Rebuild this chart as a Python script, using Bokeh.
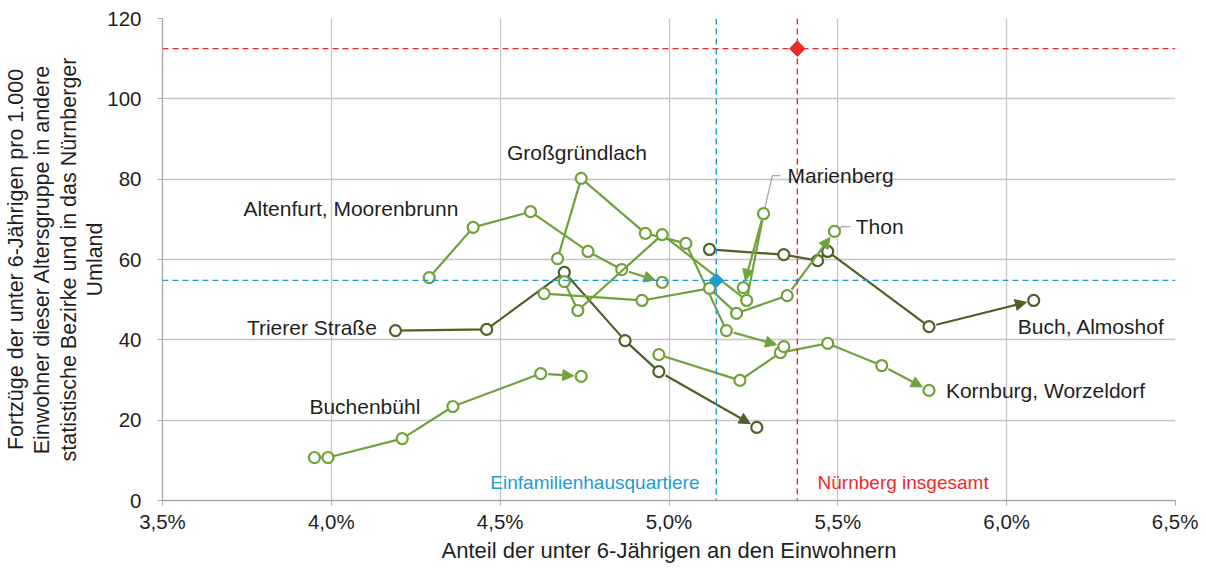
import math
from bokeh.plotting import figure
from bokeh.models import Range1d, FixedTicker, Arrow, NormalHead, Label, Span
from bokeh.embed import file_html
from bokeh.resources import INLINE

# ---------------- data ----------------
x_ticks = [3.5, 4.0, 4.5, 5.0, 5.5, 6.0, 6.5]
x_tick_labels = ["3,5%", "4,0%", "4,5%", "5,0%", "5,5%", "6,0%", "6,5%"]
y_ticks = [0, 20, 40, 60, 80, 100, 120]

trierer_x = [4.19, 4.46, 4.69, 4.87, 4.97, 5.26]
trierer_y = [42.3, 42.6, 56.8, 39.8, 32.1, 18.2]

buch_x = [5.12, 5.34, 5.44, 5.47, 5.77, 6.08]
buch_y = [62.5, 61.2, 59.7, 62.0, 43.3, 49.8]

buchenbuehl_x = [3.95, 3.99, 4.21, 4.36, 4.62, 4.74]
buchenbuehl_y = [10.7, 10.7, 15.4, 23.4, 31.6, 30.9]

kornburg_x = [4.97, 5.21, 5.33, 5.47, 5.63, 5.77]
kornburg_y = [36.3, 29.9, 36.8, 39.1, 33.6, 27.4]

altenfurt_x = [4.29, 4.42, 4.59, 4.76, 4.86, 4.98]
altenfurt_y = [55.5, 68.0, 71.9, 62.0, 57.5, 54.3]

grossgruendlach_x = [4.67, 4.74, 4.93, 5.05, 5.17, 5.34]
grossgruendlach_y = [60.2, 80.2, 66.5, 64.0, 42.3, 38.3]

marienberg_x = [4.69, 4.73, 4.98, 5.23, 5.28, 5.22]
marienberg_y = [54.5, 47.3, 66.2, 49.8, 71.4, 53.0]

thon_x = [4.63, 4.92, 5.12, 5.20, 5.35, 5.49]
thon_y = [51.5, 49.8, 52.8, 46.6, 51.0, 67.0]

efh_x, efh_y = 5.14, 54.8          # Einfamilienhausquartiere
nbg_x, nbg_y = 5.38, 112.5         # Nürnberg insgesamt

# ---------------- style ----------------
DARK = "#4e6126"
LIGHT = "#70a13b"
BLUE = "#1f9ad6"
RED = "#f02828"
GRID = "#c6c6c6"
TXT = "#1f1f1f"
FONT = "Liberation Sans"

FW, FH = 1013, 482
XMIN, XMAX, YMIN, YMAX = 3.5, 6.5, 0, 120
sx = FW / (XMAX - XMIN)
sy = FH / (YMAX - YMIN)

p = figure(frame_width=FW, frame_height=FH, output_backend="svg", toolbar_location=None,
           x_range=Range1d(XMIN, XMAX), y_range=Range1d(YMIN, YMAX),
           min_border_left=162, min_border_right=23, min_border_top=18, min_border_bottom=62)
p.outline_line_color = None
p.background_fill_color = "white"

p.xaxis.ticker = FixedTicker(ticks=x_ticks)
p.xaxis.major_label_overrides = {t: l for t, l in zip(x_ticks, x_tick_labels)}
p.yaxis.ticker = FixedTicker(ticks=y_ticks)
p.xgrid.ticker = FixedTicker(ticks=x_ticks)
p.ygrid.ticker = FixedTicker(ticks=y_ticks)
for g in (p.xgrid, p.ygrid):
    g.grid_line_color = GRID
    g.grid_line_width = 1.3

for ax in (p.xaxis, p.yaxis):
    ax.axis_line_color = "#a6a6a6"
    ax.axis_line_width = 1.3
    ax.major_tick_line_color = "#a6a6a6"
    ax.major_tick_out = 5
    ax.major_tick_in = 0
    ax.minor_tick_line_color = None
    ax.major_label_text_font = FONT
    ax.major_label_text_font_size = "20.5px"
    ax.major_label_text_color = TXT
    ax.axis_label_text_font = FONT
    ax.axis_label_text_font_size = "21.5px"
    ax.axis_label_text_font_style = "normal"
    ax.axis_label_text_color = TXT

p.xaxis.major_label_standoff = 4
p.yaxis.major_label_standoff = 16
p.xaxis.axis_label = "Anteil der unter 6-Jährigen an den Einwohnern"
p.xaxis.axis_label_text_font_size = "22px"
p.xaxis.axis_label_standoff = 2
p.yaxis.axis_label = ("Fortzüge der unter 6-Jährigen pro 1.000\n"
                      "Einwohner dieser Altersgruppe in andere\n"
                      "statistische Bezirke und in das Nürnberger\n"
                      "Umland")
p.yaxis.axis_label_standoff = -3
p.yaxis.axis_label_text_line_height = 1.1

# leader lines (drawn first, under markers)
LEAD = "#a6a6a6"
p.line([marienberg_x[4], 5.306, 5.330], [marienberg_y[4], 80.9, 80.9], line_color=LEAD, line_width=1.3)
p.line([thon_x[5], 5.514, 5.537], [thon_y[5], 68.2, 68.2], line_color=LEAD, line_width=1.3)

series = [
    (trierer_x, trierer_y, DARK),
    (buch_x, buch_y, DARK),
    (buchenbuehl_x, buchenbuehl_y, LIGHT),
    (kornburg_x, kornburg_y, LIGHT),
    (altenfurt_x, altenfurt_y, LIGHT),
    (grossgruendlach_x, grossgruendlach_y, LIGHT),
    (marienberg_x, marienberg_y, LIGHT),
    (thon_x, thon_y, LIGHT),
]

R = 7.5
for xs, ys, col in series:
    p.line(xs[:-1], ys[:-1], line_color=col, line_width=2.2)
    # last segment as arrow, tip touching the last marker
    x0, y0, x1, y1 = xs[-2], ys[-2], xs[-1], ys[-1]
    dx, dy = (x1 - x0) * sx, (y1 - y0) * sy
    L = math.hypot(dx, dy)
    ux, uy = dx / L, dy / L
    p.add_layout(Arrow(end=NormalHead(size=11, fill_color=col, line_color=col, line_width=1),
                       x_start=x0 + R * ux / sx, y_start=y0 + R * uy / sy,
                       x_end=x1 - R * ux / sx, y_end=y1 - R * uy / sy,
                       line_color=col, line_width=2.2))
    p.scatter(xs, ys, marker="circle", size=11, fill_color="white",
              line_color=col, line_width=2.2)

# reference lines
p.add_layout(Span(location=efh_x, dimension="height", line_color=BLUE, line_dash="6 4", line_width=1.4))
p.add_layout(Span(location=efh_y, dimension="width", line_color=BLUE, line_dash="6 4", line_width=1.4))
p.add_layout(Span(location=nbg_x, dimension="height", line_color=RED, line_dash="6 4", line_width=1.4))
p.add_layout(Span(location=nbg_y, dimension="width", line_color=RED, line_dash="6 4", line_width=1.4))
p.scatter([efh_x], [efh_y], marker="square", angle=math.pi / 4, size=10,
          fill_color=BLUE, line_color=BLUE)
p.scatter([nbg_x], [nbg_y], marker="square", angle=math.pi / 4, size=11,
          fill_color=RED, line_color=RED)

# text labels
labels = [
    ("Großgründlach", 4.52, 86.6, TXT, "21px"),
    ("Marienberg", 5.351, 80.9, TXT, "21px"),
    ("Altenfurt, Moorenbrunn", 3.74, 72.7, TXT, "21px"),
    ("Thon", 5.553, 68.2, TXT, "21px"),
    ("Trierer Straße", 3.75, 43.1, TXT, "21px"),
    ("Buch, Almoshof", 6.033, 43.3, TXT, "21px"),
    ("Buchenbühl", 3.935, 23.4, TXT, "21px"),
    ("Kornburg, Worzeldorf", 5.82, 27.4, TXT, "21px"),
    ("Einfamilienhausquartiere", 4.471, 4.5, BLUE, "19px"),
    ("Nürnberg insgesamt", 5.44, 4.5, RED, "19px"),
]
for t, lx, ly, c, fs in labels:
    p.add_layout(Label(x=lx, y=ly, text=t, text_align="left", text_baseline="middle",
                       text_font=FONT, text_font_size=fs, text_color=c))

open("out.html", "w").write(file_html(p, INLINE))
